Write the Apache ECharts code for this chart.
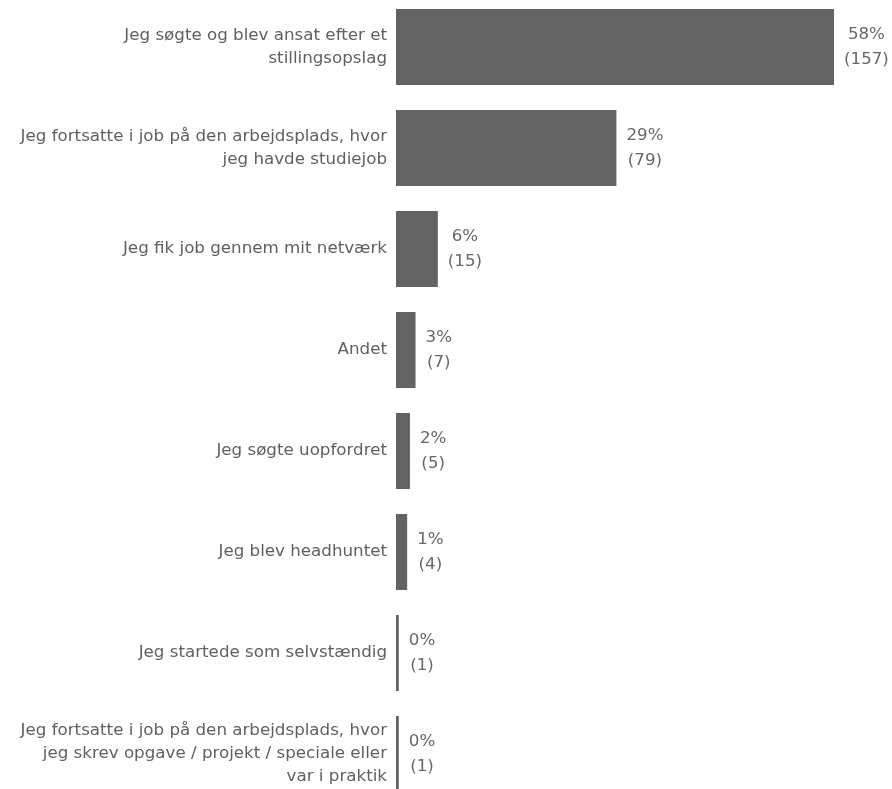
<!DOCTYPE html>
<html>
<head>
<meta charset="utf-8">
<script src="https://cdn.jsdelivr.net/npm/echarts@6/dist/echarts.min.js"></script>
<style>html,body{margin:0;padding:0;background:#fff}#c{width:892px;height:789px}</style>
</head>
<body>
<div id="c"></div>
<script>
const categories = [
  "Jeg søgte og blev ansat efter et\nstillingsopslag",
  "Jeg fortsatte i job på den arbejdsplads, hvor\njeg havde studiejob",
  "Jeg fik job gennem mit netværk",
  "Andet",
  "Jeg søgte uopfordret",
  "Jeg blev headhuntet",
  "Jeg startede som selvstændig",
  "Jeg fortsatte i job på den arbejdsplads, hvor\njeg skrev opgave / projekt / speciale eller\nvar i praktik"
];
const counts = [157, 79, 15, 7, 5, 4, 1, 1];
const percents = [58, 29, 6, 3, 2, 1, 0, 0];

const FONT = 'DejaVu Sans';
const FS = 16.7;
const chart = echarts.init(document.getElementById('c'));
chart.setOption({
  animation: false,
  grid: { left: 396, width: 438, top: -3.5, height: 808, outerBoundsMode: 'none', containLabel: false },
  xAxis: { type: 'value', min: 0, max: 157, show: false },
  yAxis: {
    type: 'category', inverse: true, data: categories,
    axisLine: { show: false }, axisTick: { show: false },
    axisLabel: { margin: 9, color: '#606060', fontFamily: FONT, fontSize: FS, lineHeight: 23, align: 'right' }
  },
  series: [{
    type: 'bar',
    data: counts,
    barWidth: 76,
    itemStyle: { color: '#636363' },
    label: {
      show: true, position: 'right', distance: 10,
      color: '#686868', fontFamily: FONT, fontSize: FS, lineHeight: 25, align: 'left',
      formatter: p => '{c|' + percents[p.dataIndex] + '%}\n{c|(' + counts[p.dataIndex] + ')}',
      rich: { c: { align: 'center', color: '#686868', fontFamily: FONT, fontSize: FS, lineHeight: 25 } }
    }
  }]
});
</script>
</body>
</html>
